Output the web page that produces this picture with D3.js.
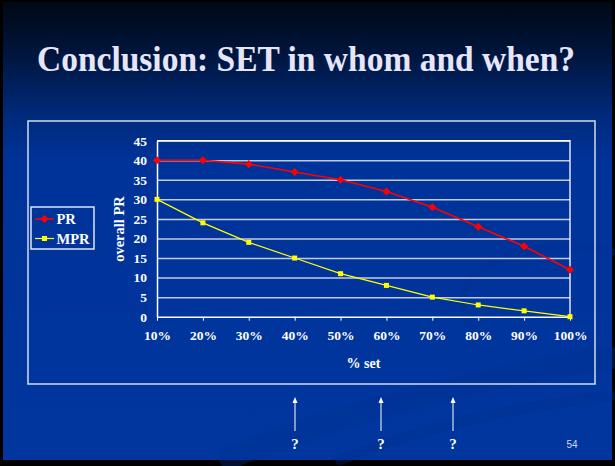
<!DOCTYPE html>
<html>
<head>
<meta charset="utf-8">
<script src="https://cdn.jsdelivr.net/npm/d3@7"></script>
<style>
  html, body { margin: 0; padding: 0; background: #000; }
  svg { display: block; }
</style>
</head>
<body>
<script>
// Chart data
const categories = ["10%", "20%", "30%", "40%", "50%", "60%", "70%", "80%", "90%", "100%"];
const prValues   = [40, 40, 39, 37, 35, 32, 28, 23, 18, 12];
const mprValues  = [30, 24, 19, 15, 11, 8, 5, 3, 1.5, 0];
const yTicks     = [0, 5, 10, 15, 20, 25, 30, 35, 40, 45];
const seriesNames = ["PR", "MPR"];

const W = 615, H = 466;
const serif = "'Times New Roman', 'Liberation Serif', serif";

const svg = d3.select("body").append("svg")
  .attr("width", W).attr("height", H);

const defs = svg.append("defs");
const bg = defs.append("linearGradient").attr("id", "bg")
  .attr("x1", 0).attr("y1", 0).attr("x2", 0).attr("y2", 1);
bg.append("stop").attr("offset", "0").attr("stop-color", "#000814");
bg.append("stop").attr("offset", "0.12").attr("stop-color", "#001640");
bg.append("stop").attr("offset", "0.25").attr("stop-color", "#002a7c");
bg.append("stop").attr("offset", "0.35").attr("stop-color", "#00339a");
bg.append("stop").attr("offset", "1").attr("stop-color", "#00369e");

// Slide frame and background
svg.append("rect").attr("width", W).attr("height", H).attr("fill", "#000");
svg.append("rect").attr("x", 3).attr("y", 2).attr("width", 609).attr("height", 458)
  .attr("fill", "url(#bg)");

// Decorative swooshes (subtle)
const sw = svg.append("g").attr("fill", "none").attr("stroke-linecap", "round");
sw.append("path").attr("d", "M230,458 C360,405 500,375 612,358")
  .attr("stroke", "#00308f").attr("stroke-width", 22).attr("opacity", 0.35);
sw.append("path").attr("d", "M340,460 C430,425 520,405 612,396")
  .attr("stroke", "#002f8c").attr("stroke-width", 10).attr("opacity", 0.3);
sw.append("path").attr("d", "M480,335 C440,300 470,252 560,247 C600,245 612,252 612,252")
  .attr("stroke", "#003090").attr("stroke-width", 8).attr("opacity", 0.3);

// Title
svg.append("text")
  .attr("x", 306).attr("y", 71)
  .attr("text-anchor", "middle")
  .attr("font-family", serif).attr("font-weight", "bold")
  .attr("font-size", 35)
  .attr("textLength", 538).attr("lengthAdjust", "spacingAndGlyphs")
  .attr("fill", "#e6e6fb")
  .text("Conclusion: SET in whom and when?");

// Chart box
svg.append("rect")
  .attr("x", 28).attr("y", 121).attr("width", 567).attr("height", 263)
  .attr("fill", "none").attr("stroke", "#d4dbea").attr("stroke-width", 1.5);

// Scales
const x = d3.scalePoint().domain(categories).range([157, 570]);
const y = d3.scaleLinear().domain([0, 45]).range([316.7, 140.7]);

const plot = svg.append("g");

// Horizontal gridlines
plot.append("g")
  .attr("transform", "translate(157,0)")
  .call(d3.axisLeft(y).tickValues(yTicks.slice(1)).tickSize(-(570 - 157)).tickFormat(""))
  .call(g => g.select(".domain").remove())
  .call(g => g.selectAll("line").attr("stroke", "#c2cade").attr("stroke-width", 1.5));

// Plot area border (top and right)
plot.append("path")
  .attr("d", `M157,${y(45)}H570V${y(0)}`)
  .attr("fill", "none").attr("stroke", "#ffffff").attr("stroke-width", 1.3);

// Y axis
const yAxis = plot.append("g")
  .attr("transform", "translate(157,0)")
  .call(d3.axisLeft(y).tickValues(yTicks).tickSize(0).tickPadding(10));
yAxis.select(".domain").attr("stroke", "#ffffff").attr("stroke-width", 1.5);
yAxis.selectAll("text")
  .attr("font-family", serif).attr("font-weight", "bold").attr("font-size", 13.5)
  .attr("fill", "#ffffff");

// X axis
const xAxis = plot.append("g")
  .attr("transform", `translate(0,${y(0)})`)
  .call(d3.axisBottom(x).tickSize(4).tickPadding(10).tickSizeOuter(0));
xAxis.select(".domain").attr("stroke", "#ffffff").attr("stroke-width", 1.5);
xAxis.selectAll("line").attr("stroke", "#ffffff").attr("stroke-width", 1);
xAxis.selectAll("text")
  .attr("font-family", serif).attr("font-weight", "bold").attr("font-size", 13.5)
  .attr("fill", "#ffffff");

// Axis titles
svg.append("text")
  .attr("x", 363.5).attr("y", 368)
  .attr("text-anchor", "middle")
  .attr("font-family", serif).attr("font-weight", "bold").attr("font-size", 14)
  .attr("fill", "#ffffff").text("% set");
svg.append("text")
  .attr("transform", "translate(124,229) rotate(-90)")
  .attr("text-anchor", "middle")
  .attr("font-family", serif).attr("font-weight", "bold").attr("font-size", 14.5)
  .attr("fill", "#ffffff").text("overall PR");

// Series
const line = d3.line().x(d => x(d.c)).y(d => y(d.v));
const prData = categories.map((c, i) => ({ c, v: prValues[i] }));
const mprData = categories.map((c, i) => ({ c, v: mprValues[i] }));

plot.append("path").datum(mprData).attr("d", line)
  .attr("fill", "none").attr("stroke", "#ffff00").attr("stroke-width", 1.2);
plot.append("path").datum(prData).attr("d", line)
  .attr("fill", "none").attr("stroke", "#ff0000").attr("stroke-width", 1.6);

const diamond = d3.symbol().type(d3.symbolDiamond2).size(42);
const square = d3.symbol().type(d3.symbolSquare).size(25);

plot.selectAll(".pr-pt").data(prData).join("path")
  .attr("class", "pr-pt")
  .attr("transform", d => `translate(${x(d.c)},${y(d.v)})`)
  .attr("d", diamond).attr("fill", "#ff0000");
plot.selectAll(".mpr-pt").data(mprData).join("path")
  .attr("class", "mpr-pt")
  .attr("transform", d => `translate(${x(d.c)},${y(d.v)})`)
  .attr("d", square).attr("fill", "#ffff00");

// Legend
const legend = svg.append("g");
legend.append("rect")
  .attr("x", 31).attr("y", 207).attr("width", 63).attr("height", 42)
  .attr("fill", "none").attr("stroke", "#ffffff").attr("stroke-width", 1.3);
const legendItems = [
  { name: seriesNames[0], color: "#ff0000", sym: diamond, w: 1.6, y: 219 },
  { name: seriesNames[1], color: "#ffff00", sym: square, w: 1.2, y: 238.5 }
];
legendItems.forEach(it => {
  legend.append("line")
    .attr("x1", 35).attr("x2", 54).attr("y1", it.y).attr("y2", it.y)
    .attr("stroke", it.color).attr("stroke-width", it.w);
  legend.append("path")
    .attr("transform", `translate(44.5,${it.y})`)
    .attr("d", it.sym).attr("fill", it.color);
  legend.append("text")
    .attr("x", 56.5).attr("y", it.y + 5)
    .attr("font-family", serif).attr("font-weight", "bold").attr("font-size", 14.5)
    .attr("fill", "#ffffff").text(it.name);
});

// Question arrows below the chart
const arrowX = [295, 381, 453];
const arrows = svg.append("g");
arrowX.forEach(ax => {
  arrows.append("line")
    .attr("x1", ax).attr("x2", ax).attr("y1", 401).attr("y2", 431)
    .attr("stroke", "#ffffff").attr("stroke-width", 1);
  arrows.append("path")
    .attr("d", `M${ax},397 L${ax - 2.5},403 L${ax + 2.5},403 Z`)
    .attr("fill", "#ffffff");
  arrows.append("text")
    .attr("x", ax).attr("y", 449)
    .attr("text-anchor", "middle")
    .attr("font-family", serif).attr("font-weight", "bold").attr("font-size", 15)
    .attr("fill", "#ffffff").text("?");
});

// Slide number
svg.append("text")
  .attr("x", 572).attr("y", 448)
  .attr("text-anchor", "middle")
  .attr("font-family", "'Liberation Sans', Arial, sans-serif").attr("font-size", 10)
  .attr("fill", "#d0d6f0").text("54");
</script>
</body>
</html>
